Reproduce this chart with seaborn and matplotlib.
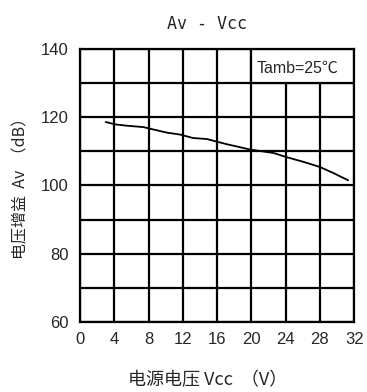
import matplotlib
matplotlib.use("Agg")
import matplotlib.pyplot as plt
from matplotlib.patches import Rectangle
import numpy as np
import pandas as pd
import seaborn as sns

# Supply voltage (V) and voltage gain (dB)
vcc = [3.0, 4.1, 5.5, 7.4, 8.4, 10.1, 11.7, 13.2, 14.8, 17.1, 19.9, 22.6, 24.1, 26.1, 28.0, 29.6, 31.3]
av = [118.6, 117.9, 117.5, 117.1, 116.5, 115.5, 114.9, 113.9, 113.6, 112.1, 110.5, 109.5, 108.3, 106.9, 105.4, 103.6, 101.5]

x_ticks = [0, 4, 8, 12, 16, 20, 24, 28, 32]
y_ticks = [60, 80, 100, 120, 140]
y_minor = [70, 90, 110, 130]

title = "Av - Vcc"
x_label = "电源电压 Vcc  （V）"
y_label = "电压增益  Av  （dB）"
note = "Tamb=25℃"

sns.set_style("white")
plt.rcParams["font.family"] = ["Liberation Sans", "Noto Sans CJK SC", "DejaVu Sans"]

df = pd.DataFrame({"Vcc": vcc, "Av": av})

fig = plt.figure(figsize=(3.67, 3.92), dpi=100)
ax = fig.add_axes([0.218, 0.179, 0.747, 0.696])

lw = 1.6
ax.set_xlim(0, 32)
ax.set_ylim(60, 140)
ax.set_xticks(x_ticks)
ax.set_yticks(y_ticks)
ax.set_yticks(y_minor, minor=True)
ax.grid(True, which="both", color="black", linewidth=lw, zorder=1)
ax.set_axisbelow(True)
for s in ax.spines.values():
    s.set_color("black")
    s.set_linewidth(lw)
ax.tick_params(which="both", length=0)
ax.tick_params(axis="y", pad=8, labelsize=12)
ax.tick_params(axis="x", pad=7, labelsize=12)

# Note box covering the top-right cells
ax.add_patch(Rectangle((20, 130), 12, 10, facecolor="white", edgecolor="black",
                       linewidth=lw, zorder=2))
ax.text(20.6, 134.3, note, fontsize=11.5, va="center", ha="left", zorder=3,
        family=["Liberation Sans", "Noto Sans CJK SC"])

sns.lineplot(data=df, x="Vcc", y="Av", ax=ax, color="black", linewidth=1.3, zorder=4)

ax.set_xlabel("")
ax.set_ylabel("")
fig.text(0.564, 0.94, title, ha="center", va="center", fontsize=12,
         family=["DejaVu Sans Mono"])
fig.text(0.566, 0.029, x_label, ha="center", va="center", fontsize=13,
         family=["Noto Sans CJK SC", "DejaVu Sans"])
fig.text(0.057, 0.53, y_label, ha="center", va="center", fontsize=11.5,
         rotation=90, family=["Noto Sans CJK SC", "DejaVu Sans"])

fig.savefig("out.png", dpi=100, facecolor="white")
